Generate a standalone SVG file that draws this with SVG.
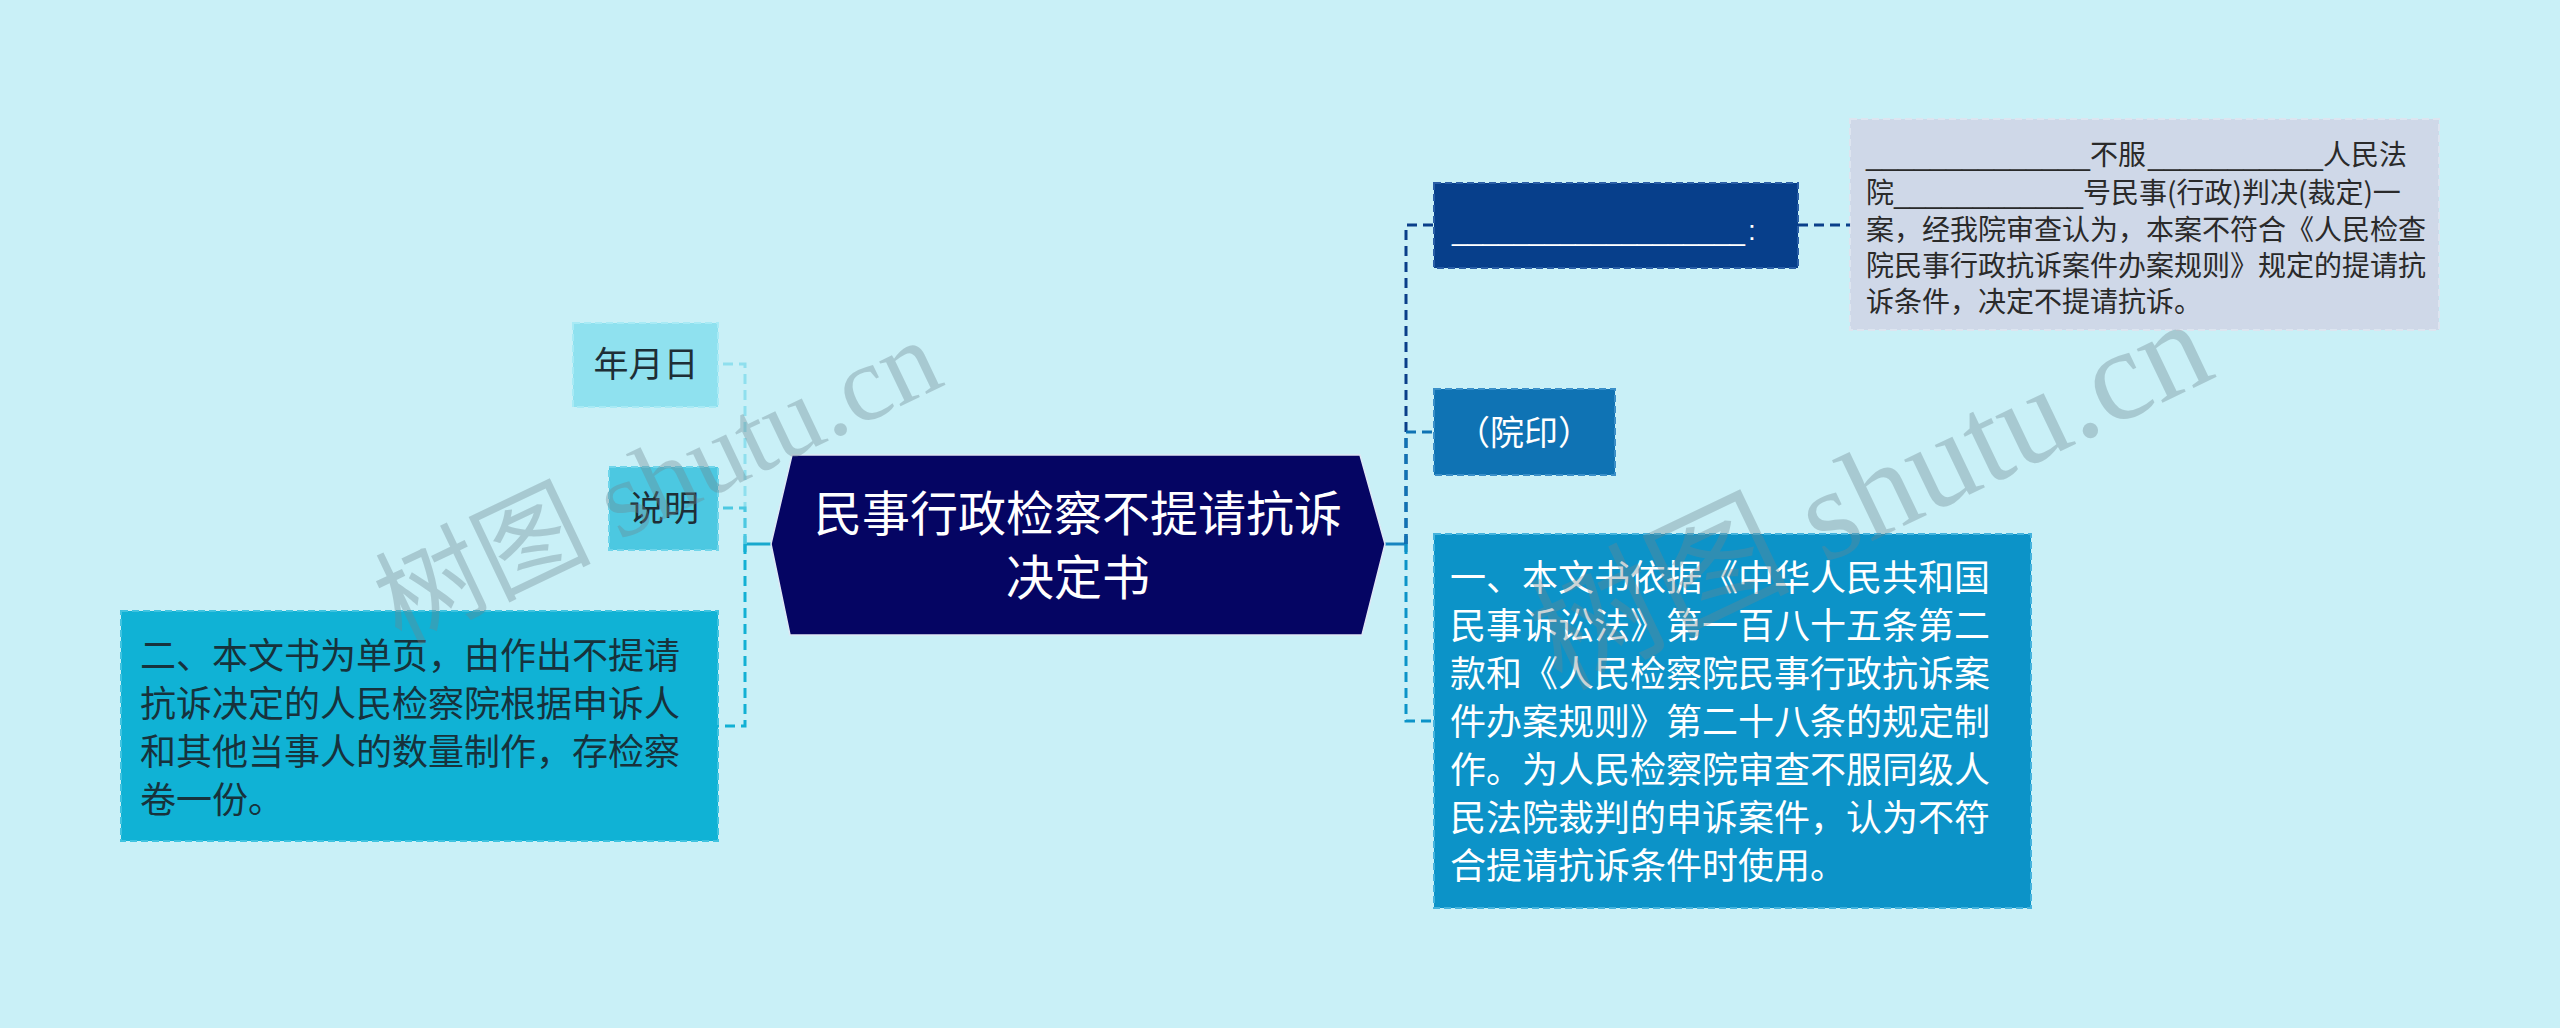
<svg xmlns="http://www.w3.org/2000/svg" width="2560" height="1028" viewBox="0 0 2560 1028">
<style>
.cjk{font-family:"Noto Sans CJK SC","Liberation Sans",sans-serif}
.lat{font-family:"Liberation Sans","Noto Sans CJK SC",sans-serif}
.conn{fill:none;stroke-width:3;stroke-dasharray:10 6}
.solid{fill:none;stroke-width:3}
.box{stroke-width:2;stroke-dasharray:7 4}
.wm{font-family:"Liberation Serif","Noto Sans CJK SC",serif;fill:#6e8790;opacity:0.36}
</style>
<rect x="0" y="0" width="2560" height="1028" fill="#c9f0f7"/>

<g id="connectors">
  <!-- right side -->
  <path class="solid" d="M1385 544 H1406" stroke="#1685c0"/>
  <path class="solid" d="M1406 536 V552" stroke="#1685c0"/>
  <path class="conn" d="M1406 544 V225 H1434" stroke="#0a3f8a"/>
  <path class="conn" d="M1406 544 V432 H1434" stroke="#0f73b4"/>
  <path class="conn" d="M1406 544 V721 H1434" stroke="#0c93c8"/>
  <path class="conn" d="M1798 225 H1850" stroke="#0a3f8a"/>
  <!-- left side -->
  <path class="solid" d="M771 544 H745" stroke="#17a8cd"/>
  <path class="solid" d="M745 536 V552" stroke="#17a8cd"/>
  <path class="conn" d="M745 544 V364 H718" stroke="#8fdfee"/>
  <path class="conn" d="M745 544 V508 H718" stroke="#4cc8e1"/>
  <path class="conn" d="M745 544 V726 H718" stroke="#12b0d4"/>
</g>

<g id="center">
  <polygon points="792,455 1360,455 1385,544 1362,635 790,635 771,544" fill="#050563" stroke="#dfe8f5" stroke-width="1.5"/>
  <text class="cjk" x="1078" y="531" font-size="48" fill="#ffffff" text-anchor="middle">民事行政检察不提请抗诉</text>
  <text class="cjk" x="1078" y="595" font-size="48" fill="#ffffff" text-anchor="middle">决定书</text>
</g>

<g id="node-blank">
  <rect class="box" x="1434" y="183" width="364" height="85" fill="#073f8b" stroke="#2a5ea6"/>
  <text class="lat" x="1452" y="240" font-size="28" fill="#ffffff" textLength="293" lengthAdjust="spacingAndGlyphs">___________________</text>
  <text class="lat" x="1748" y="240" font-size="28" fill="#ffffff">:</text>
</g>

<g id="node-detail">
  <rect class="box" x="1850" y="119" width="589" height="211" fill="#cfd8e8" stroke="#dde5f0"/>
  <g class="cjk" font-size="28" fill="#2a2a2a">
    <text class="lat" x="1866" y="165" textLength="224" lengthAdjust="spacingAndGlyphs">______________</text>
    <text x="2090" y="165">不服</text>
    <text class="lat" x="2148" y="165" textLength="175" lengthAdjust="spacingAndGlyphs">___________</text>
    <text x="2323" y="165">人民法</text>
    <text x="1866" y="203">院</text>
    <text class="lat" x="1894" y="203" textLength="189" lengthAdjust="spacingAndGlyphs">____________</text>
    <text x="2083" y="203">号民事(行政)判决(裁定)一</text>
    <text x="1866" y="240">案，经我院审查认为，本案不符合《人民检查</text>
    <text x="1866" y="276">院民事行政抗诉案件办案规则》规定的提请抗</text>
    <text x="1866" y="312">诉条件，决定不提请抗诉。</text>
  </g>
</g>

<g id="node-seal">
  <rect class="box" x="1434" y="389" width="181" height="86" fill="#0f73b4" stroke="#3a8fc8"/>
  <text class="cjk" x="1524" y="445" font-size="34" fill="#ffffff" text-anchor="middle">（院印）</text>
</g>

<g id="node-note1">
  <rect class="box" x="1434" y="534" width="597" height="374" fill="#0c93c8" stroke="#45b3dd"/>
  <g class="cjk" font-size="36" fill="#ffffff">
    <text x="1450" y="591">一、本文书依据《中华人民共和国</text>
    <text x="1450" y="639">民事诉讼法》第一百八十五条第二</text>
    <text x="1450" y="687">款和《人民检察院民事行政抗诉案</text>
    <text x="1450" y="735">件办案规则》第二十八条的规定制</text>
    <text x="1450" y="783">作。为人民检察院审查不服同级人</text>
    <text x="1450" y="831">民法院裁判的申诉案件，认为不符</text>
    <text x="1450" y="879">合提请抗诉条件时使用。</text>
  </g>
</g>

<g id="node-date">
  <rect class="box" x="573" y="323" width="145" height="84" fill="#8fe1ef" stroke="#a8eaf5"/>
  <text class="cjk" x="646" y="377" font-size="35" fill="#1e2e36" text-anchor="middle">年月日</text>
</g>

<g id="node-explain">
  <rect class="box" x="609" y="467" width="109" height="83" fill="#4cc8e1" stroke="#6fd5ea"/>
  <text class="cjk" x="664" y="521" font-size="35" fill="#1e2e36" text-anchor="middle">说明</text>
</g>

<g id="node-note2">
  <rect class="box" x="121" y="611" width="597" height="230" fill="#10b2d5" stroke="#3fc3e0"/>
  <g class="cjk" font-size="36" fill="#17323c">
    <text x="140" y="669">二、本文书为单页，由作出不提请</text>
    <text x="140" y="717">抗诉决定的人民检察院根据申诉人</text>
    <text x="140" y="765">和其他当事人的数量制作，存检察</text>
    <text x="140" y="813">卷一份。</text>
  </g>
</g>

<g id="watermarks">
  <text class="wm" x="400" y="645" font-size="108" transform="rotate(-25.5 400 645)">树图 shutu.cn</text>
  <text class="wm" x="1560" y="690" font-size="130" transform="rotate(-25.5 1560 690)">树图 shutu.cn</text>
</g>
</svg>
